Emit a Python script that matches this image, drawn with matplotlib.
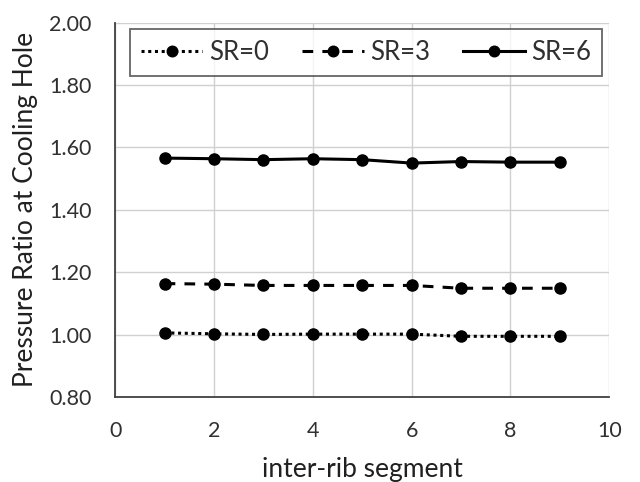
import matplotlib.pyplot as plt

plt.rcParams["font.family"] = ["Lato", "DejaVu Sans"]

segments = [1, 2, 3, 4, 5, 6, 7, 8, 9]
sr0 = [1.006, 1.003, 1.001, 1.002, 1.002, 1.002, 0.995, 0.995, 0.995]
sr3 = [1.164, 1.162, 1.158, 1.158, 1.158, 1.158, 1.149, 1.149, 1.149]
sr6 = [1.566, 1.564, 1.561, 1.564, 1.561, 1.550, 1.555, 1.553, 1.553]

fig = plt.figure(figsize=(6.4, 4.82), dpi=100)
ax = fig.add_axes([0.180, 0.176, 0.772, 0.777])

ax.plot(segments, sr0, color="black", linestyle=(0, (1, 1.2)), linewidth=2.2,
        marker="o", markersize=8, label="SR=0")
ax.plot(segments, sr3, color="black", linestyle=(0, (3.5, 3)), linewidth=2.2,
        marker="o", markersize=8, label="SR=3")
ax.plot(segments, sr6, color="black", linestyle="-", linewidth=2.2,
        marker="o", markersize=8, label="SR=6")

ax.set_xlim(0, 10)
ax.set_ylim(0.8, 2.0)
ax.set_xticks(range(0, 11, 2))
ax.set_yticks([0.8, 1.0, 1.2, 1.4, 1.6, 1.8, 2.0])
ax.set_yticklabels([f"{v:.2f}" for v in ax.get_yticks()])
ax.grid(True, color="#d0d0d0", linewidth=1)
ax.set_axisbelow(True)

for side in ["top", "right"]:
    ax.spines[side].set_visible(False)
for side in ["left", "bottom"]:
    ax.spines[side].set_color("#404040")
    ax.spines[side].set_linewidth(1.3)

ax.tick_params(length=0, labelsize=15.5, colors="#303030")
ax.tick_params(axis="x", pad=17)
ax.tick_params(axis="y", pad=17)

ax.set_xlabel("inter-rib segment", fontsize=19, color="#202020", labelpad=12)
ax.set_ylabel("Pressure Ratio at Cooling Hole", fontsize=19, color="#202020", labelpad=8)

# legend box stretched across the top of the axes
leg = ax.legend(loc="upper left", bbox_to_anchor=(0.030, 0.9725, 0.955, 0.01),
                mode="expand", ncol=3, fontsize=18.5, frameon=True, fancybox=False,
                handlelength=2.4, markerscale=0.95, borderpad=0.42,
                handletextpad=0.25, borderaxespad=0)
leg.get_frame().set_edgecolor("#404040")
leg.get_frame().set_linewidth(1.3)
for txt in leg.get_texts():
    txt.set_color("#303030")

fig.savefig("out.png", dpi=100)
